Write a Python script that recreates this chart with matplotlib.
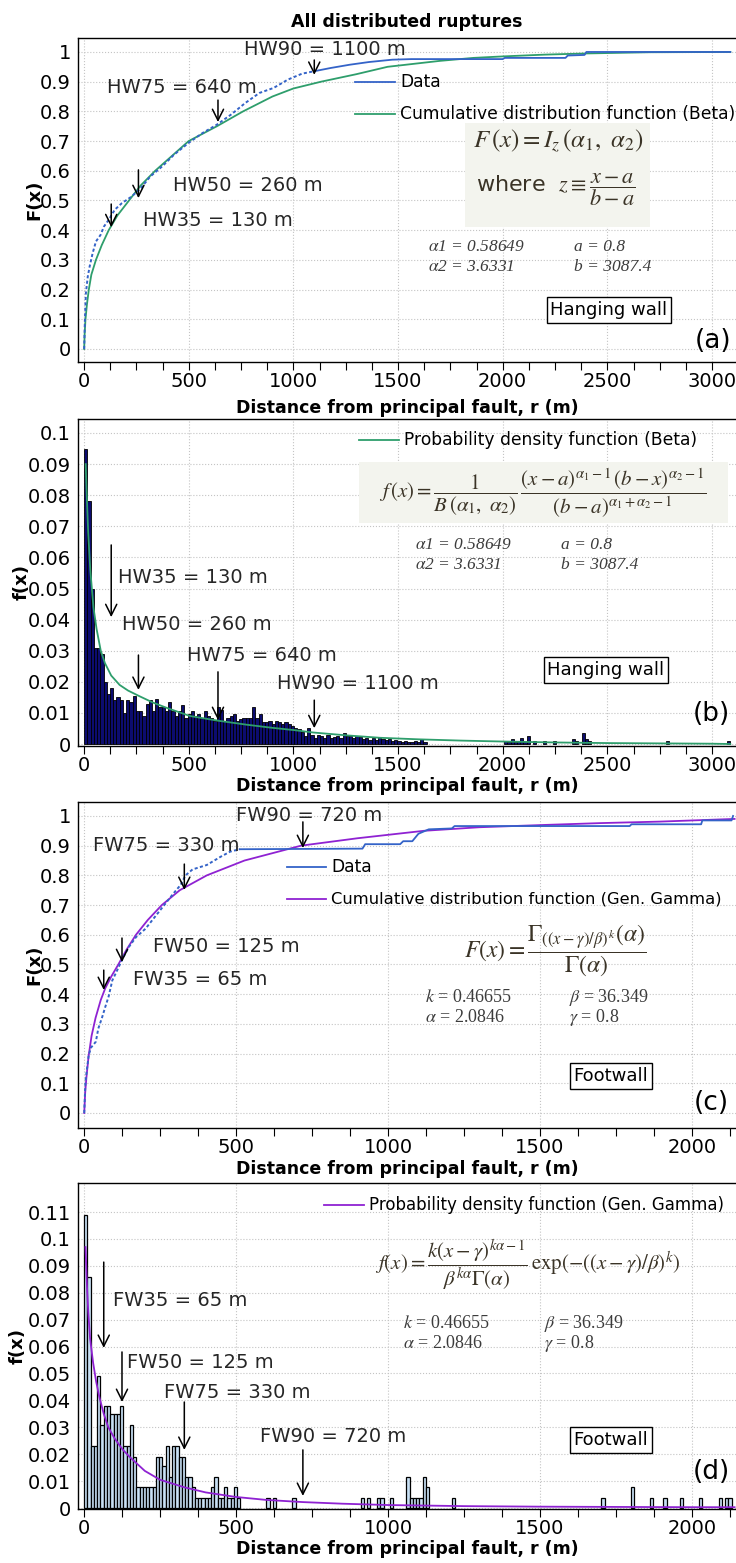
import matplotlib
matplotlib.use("Agg")
import numpy as np
import matplotlib.pyplot as plt
from matplotlib.ticker import MultipleLocator, FuncFormatter
from matplotlib.patches import Rectangle

plt.rcParams["font.family"] = ["DejaVu Sans"]
plt.rcParams["mathtext.fontset"] = "stix"

# ---------------- values ----------------
hw_pct_names = ["HW35", "HW50", "HW75", "HW90"]
hw_pct_vals = [130, 260, 640, 1100]
fw_pct_names = ["FW35", "FW50", "FW75", "FW90"]
fw_pct_vals = [65, 125, 330, 720]

# (a) hanging wall, empirical cdf
hw_ecdf_x = [0.8, 4.5, 9, 18, 27, 41, 57, 79, 95, 118, 147, 181, 227, 272, 317, 374,
             430, 498, 566, 634, 702, 770, 838, 906, 974, 1042, 1099, 1178, 1269,
             1360, 1473, 1564, 2000, 2010, 2300, 2311, 2391, 2400, 3087.4]
hw_ecdf_F = [0.0, 0.103, 0.188, 0.244, 0.278, 0.322, 0.362, 0.384, 0.412, 0.435, 0.469,
             0.491, 0.513, 0.542, 0.581, 0.615, 0.654, 0.693, 0.727, 0.755, 0.789, 0.828,
             0.862, 0.879, 0.907, 0.927, 0.935, 0.946, 0.957, 0.966, 0.974, 0.976,
             0.976, 0.98, 0.98, 0.988, 0.99, 1.0, 1.0]
# (a) fitted beta cdf
beta_cdf_x = [0.8, 3, 7, 14, 23, 35, 57, 85, 118, 160, 215, 270, 340, 420, 500, 635,
              760, 900, 1000, 1133, 1300, 1450, 1600, 1700, 1860, 2000, 2200, 2400,
              2700, 3087.4]
beta_cdf_F = [0.0, 0.05, 0.1, 0.15, 0.2, 0.25, 0.3, 0.35, 0.4, 0.45, 0.5, 0.55, 0.6,
              0.65, 0.7, 0.75, 0.8, 0.85, 0.877, 0.9, 0.925, 0.95, 0.962, 0.97, 0.98,
              0.985, 0.991, 0.995, 0.999, 1.0]

# (b) hanging wall histogram (relative frequency per bin)
hw_bin_lo = 0.8
hw_bin_w = 15.43
hw_nbins = 200
hw_freq_head = [
    0.095, 0.078, 0.050, 0.031, 0.031, 0.029, 0.020, 0.016,
    0.018, 0.014, 0.015, 0.014, 0.010, 0.014, 0.0135, 0.0155,
    0.0105, 0.0105, 0.009, 0.013, 0.014, 0.0105, 0.0145, 0.012,
    0.012, 0.0105, 0.0135, 0.0105, 0.009, 0.0105, 0.0125, 0.0085,
    0.0095, 0.0105, 0.009, 0.0095, 0.0085, 0.0105, 0.009, 0.0085,
    0.0075, 0.012, 0.011, 0.0075, 0.0085, 0.009, 0.0095, 0.0075,
    0.0082, 0.0085, 0.0085, 0.0085, 0.012, 0.0085, 0.0095, 0.0072,
    0.0072, 0.0075, 0.0064, 0.0075, 0.0072, 0.0064, 0.0072, 0.0064,
    0.0058, 0.0052, 0.0047, 0.0038, 0.0027, 0.0052, 0.0030, 0.0020,
    0.0030, 0.0025, 0.0020, 0.0030, 0.0020, 0.0022, 0.0025, 0.0020,
    0.0034, 0.0025, 0.0025, 0.0020, 0.0025, 0.0022, 0.0015, 0.0020,
    0.0012, 0.0018, 0.0012, 0.0022, 0.0015, 0.0012, 0.0015, 0.0010,
    0.0012, 0.0010, 0.0005, 0.0010, 0.0005, 0.0005, 0.0010, 0.0005,
]
hw_freq_tail = {104: 0.0015, 105: 0.0005, 130: 0.001, 131: 0.0005, 132: 0.0016,
                133: 0.0005, 134: 0.001, 135: 0.0018, 136: 0.0005, 137: 0.0027,
                139: 0.001, 142: 0.001, 145: 0.001, 151: 0.0016, 152: 0.001,
                154: 0.0034, 155: 0.0016, 156: 0.001, 180: 0.001, 199: 0.001}
# (b) fitted beta pdf (scaled to bin frequency)
beta_pdf_x = [8, 12, 20, 30, 45, 60, 80, 100, 130, 170, 210, 264, 330, 400, 506, 640,
              778, 900, 1000, 1095, 1250, 1414, 1600, 1800, 2000, 2250, 2500, 2750,
              3000, 3087.4]
beta_pdf_f = [0.090, 0.082, 0.068, 0.056, 0.044, 0.037, 0.030, 0.026, 0.022, 0.019,
              0.0172, 0.0154, 0.0133, 0.0115, 0.0090, 0.0075, 0.0062, 0.0052, 0.0045,
              0.0037, 0.0028, 0.0020, 0.0015, 0.0011, 0.0008, 0.0005, 0.0003, 0.0002,
              0.0001, 0.0]

# (c) footwall, empirical cdf
fw_ecdf_x = [0.8, 4.7, 15.5, 23, 39, 47, 59, 70, 81, 93, 109, 127, 147, 171, 202, 233,
             264, 295, 318, 334, 357, 404, 450, 481, 512, 916, 925, 1040, 1050, 1080,
             1100, 1134, 1210, 1219, 1795, 1801, 2030, 2034, 2130, 2135]
fw_ecdf_F = [0.0, 0.105, 0.195, 0.22, 0.24, 0.284, 0.32, 0.357, 0.392, 0.446, 0.48,
             0.52, 0.558, 0.592, 0.62, 0.66, 0.70, 0.74, 0.768, 0.80, 0.82, 0.835,
             0.863, 0.88, 0.888, 0.89, 0.905, 0.905, 0.915, 0.915, 0.94, 0.955, 0.958,
             0.966, 0.966, 0.972, 0.972, 0.985, 0.985, 1.0]
# (c) fitted generalized gamma cdf
gg_cdf_x = [0.8, 4, 8, 15, 25, 38, 55, 70, 90, 113, 140, 171, 210, 256, 315, 404, 528,
            714, 900, 1118, 1300, 1522, 1700, 1894, 2140]
gg_cdf_F = [0.0, 0.07, 0.12, 0.19, 0.26, 0.32, 0.38, 0.42, 0.46, 0.5, 0.55, 0.6, 0.65,
            0.7, 0.75, 0.8, 0.85, 0.9, 0.925, 0.95, 0.962, 0.97, 0.976, 0.981, 0.99]

# (d) footwall histogram
fw_bin_lo = 0.8
fw_bin_w = 10.7
fw_nbins = 200
fw_freq_head = [
    0.109, 0.086, 0.023, 0.023, 0.049, 0.031, 0.038, 0.038,
    0.035, 0.035, 0.035, 0.038, 0.023, 0.023, 0.031, 0.019,
    0.0078, 0.0078, 0.0078, 0.0078, 0.0078, 0.0078, 0.019, 0.019,
    0.0155, 0.023, 0.0116, 0.023, 0.023, 0.019, 0.019, 0.0116,
    0.0116, 0.0078, 0.0039, 0.0039, 0.0039, 0.0039, 0.0039, 0.0078,
    0.0116, 0.0039, 0.0039, 0.0078, 0.0039, 0.0039, 0.0078, 0.0039,
]
fw_freq_tail = {56: 0.0039, 58: 0.0039, 64: 0.0039, 85: 0.0039, 87: 0.0039,
                90: 0.0039, 91: 0.0039, 94: 0.0039, 99: 0.0116, 100: 0.0039,
                101: 0.0039, 102: 0.0039, 103: 0.0039, 104: 0.0116, 105: 0.0078,
                113: 0.0039, 159: 0.0039, 168: 0.0078, 174: 0.0039, 178: 0.0039,
                183: 0.0039, 189: 0.0039, 195: 0.0039, 197: 0.0039, 198: 0.0039}
# (d) fitted generalized gamma pdf
gg_pdf_x = [5, 10, 14, 20, 30, 40, 50, 65, 80, 100, 125, 150, 200, 250, 330, 400, 500,
            600, 720, 850, 1000, 1250, 1500, 1750, 2000, 2140]
gg_pdf_f = [0.097, 0.082, 0.073, 0.063, 0.054, 0.047, 0.0415, 0.035, 0.030, 0.026,
            0.022, 0.019, 0.0138, 0.0105, 0.0077, 0.0058, 0.0041, 0.0030, 0.0022,
            0.0016, 0.0011, 0.0007, 0.0005, 0.0004, 0.0003, 0.0003]

# ---------------- styling ----------------
C_DATA = "#3463c8"
C_BETA = "#2e9e6c"
C_GG = "#8f22d2"
C_NAVY = "#0c0c70"
C_LIGHT = "#c8e0f4"
C_FORM = "#3a3326"
C_PAR = "#3c3c3c"
LEG_SIZE = 12.3
SERIF = ["Liberation Serif", "DejaVu Serif"]

W, H = 736, 1563
LEFT, RIGHT = 78, 736
panels = {"a": (38, 362), "b": (419, 746), "c": (802, 1128), "d": (1183, 1509)}

fig = plt.figure(figsize=(W / 100, H / 100), dpi=100)


def make_axes(key):
    top, bot = panels[key]
    return fig.add_axes([LEFT / W, 1 - bot / H, (RIGHT - LEFT) / W, (bot - top) / H])


def afrac(key, px, py):
    top, bot = panels[key]
    return (px - LEFT) / (RIGHT - LEFT), (bot - py) / (bot - top)


def style(ax, key, xlim, ylim, yticks, ylabel, ylab_px, xlab_pad):
    ax.set_xlim(xlim)
    ax.set_ylim(ylim)
    ax.set_yticks(yticks)
    ax.yaxis.set_major_formatter(FuncFormatter(lambda v, p: f"{v:g}"))
    ax.xaxis.set_major_locator(MultipleLocator(500))
    ax.xaxis.set_minor_locator(MultipleLocator(125))
    ax.grid(True, which="major", ls=":", color="#c4c4c4", lw=0.8)
    ax.set_axisbelow(True)
    ax.spines["right"].set_visible(False)
    for s in ["left", "top", "bottom"]:
        ax.spines[s].set_linewidth(1.0)
    ax.tick_params(axis="x", which="major", length=6, width=0.8, pad=1, labelsize=14)
    ax.tick_params(axis="x", which="minor", length=6, width=0.8)
    ax.tick_params(axis="y", length=0, pad=5, labelsize=14)
    ax.set_xlabel("Distance from principal fault, r (m)", fontsize=12.5,
                  fontweight="bold", labelpad=xlab_pad)
    ax.set_ylabel(ylabel, fontsize=13, fontweight="bold")
    ax.yaxis.set_label_coords((ylab_px - LEFT) / (RIGHT - LEFT), 0.5)


def legend_line(ax, key, x1, x2, py, color, label, size=LEG_SIZE):
    fx1, fy = afrac(key, x1, py)
    fx2, _ = afrac(key, x2, py)
    ax.plot([fx1, fx2], [fy, fy], color=color, lw=1.3, transform=ax.transAxes)
    ax.text(fx2 + 5 / 658, fy, label, transform=ax.transAxes, ha="left", va="center",
            fontsize=size)


def put(ax, key, px, py, s, **kw):
    fx, fy = afrac(key, px, py)
    ax.text(fx, fy, s, transform=ax.transAxes, **kw)


def boxed(ax, key, px, py, s):
    put(ax, key, px, py, s, ha="center", va="center", fontsize=13,
        bbox=dict(boxstyle="square,pad=0.2", fc="white", ec="black", lw=1.0))


def shade(ax, key, x1, y1, x2, y2):
    fx1, fy1 = afrac(key, x1, y2)
    fx2, fy2 = afrac(key, x2, y1)
    ax.add_patch(Rectangle((fx1, fy1), fx2 - fx1, fy2 - fy1, transform=ax.transAxes,
                           fc="#f3f4ee", ec="none", zorder=1))


def arrows(ax, names, vals, text_xy, tails, heads):
    for name, v, (tx, ty), t, h in zip(names, vals, text_xy, tails, heads):
        ax.annotate("", xy=(v, h), xytext=(v, t),
                    arrowprops=dict(arrowstyle="->", color="black", lw=1.1,
                                    mutation_scale=20, shrinkA=0, shrinkB=0))
        ax.text(tx, ty, f"{name} = {v} m", ha="left", va="center", fontsize=14,
                color="#262626")


def bars(ax, lo, w, n, head, tail, fc, lw):
    freq = np.zeros(n)
    freq[:len(head)] = head
    for k, v in tail.items():
        freq[k] = v
    left = lo + w * np.arange(n)
    keep = freq > 0
    ax.bar(left[keep], freq[keep], width=w, align="edge", color=fc,
           edgecolor="black", lw=lw, zorder=2)


def ecdf_line(ax, x, F, split):
    x = np.asarray(x)
    F = np.asarray(F)
    i = int(np.searchsorted(F, split))
    ax.plot(x[:i + 1], F[:i + 1], color=C_DATA, lw=1.4, ls=(0, (1.6, 1.2)), zorder=3)
    ax.plot(x[i:], F[i:], color=C_DATA, lw=1.3, zorder=3)


beta_par = [r"$\alpha$1 = 0.58649", r"$\alpha$2 = 3.6331", "a = 0.8", "b = 3087.4"]
gg_par = [r"$k$ = 0.46655", r"$\alpha$ = 2.0846", r"$\beta$ = 36.349", r"$\gamma$ = 0.8"]


def params(ax, key, x1, x2, y1, y2, items, italic):
    kw = dict(ha="left", va="center", fontsize=12.5, color=C_PAR, family=SERIF)
    if italic:
        kw.update(style="italic")
    else:
        kw.update(fontsize=13)
    for (px, py), s in zip([(x1, y1), (x1, y2), (x2, y1), (x2, y2)], items):
        put(ax, key, px, py, s, **kw)


# ---------------- (a) ----------------
ax = make_axes("a")
style(ax, "a", (-28.7, 3114.6), (-0.0438, 1.047), np.round(np.arange(0, 1.01, 0.1), 1),
      "F(x)", 43, 6)
ax.plot(beta_cdf_x, beta_cdf_F, color=C_BETA, lw=1.3, zorder=3)
ecdf_line(ax, hw_ecdf_x, hw_ecdf_F, 0.93)
arrows(ax, hw_pct_names, hw_pct_vals,
       [(282, 0.431), (425, 0.549), (110, 0.879), (764, 1.007)],
       [0.488, 0.603, 0.838, 0.973], [0.41, 0.508, 0.764, 0.923])
legend_line(ax, "a", 355, 395, 82, C_DATA, "Data")
legend_line(ax, "a", 355, 395, 114, C_BETA, "Cumulative distribution function (Beta)")
shade(ax, "a", 465, 123, 650, 227)
put(ax, "a", 558, 141, r"$F\,(x) = I_z\,(\alpha_1,\ \alpha_2)$", ha="center",
    va="center", fontsize=18, color=C_FORM, zorder=4)
put(ax, "a", 556, 190, r"where  $z\equiv\dfrac{x-a}{b-a}$", ha="center", va="center",
    fontsize=16, color=C_FORM, zorder=4)
params(ax, "a", 428, 574, 247, 267, beta_par, True)
boxed(ax, "a", 609, 310, "Hanging wall")
put(ax, "a", 713, 341, "(a)", ha="center", va="center", fontsize=19)
ax.set_title("All distributed ruptures", fontsize=12.5, fontweight="bold", pad=8)

# ---------------- (b) ----------------
ax = make_axes("b")
style(ax, "b", (-28.7, 3114.6), (-0.00064, 0.1045), np.round(np.arange(0, 0.101, 0.01), 2),
      "f(x)", 31, 2)
bars(ax, hw_bin_lo, hw_bin_w, hw_nbins, hw_freq_head, hw_freq_tail, C_NAVY, 0.6)
ax.plot(beta_pdf_x, beta_pdf_f, color=C_BETA, lw=1.3, zorder=3)
arrows(ax, hw_pct_names, hw_pct_vals,
       [(162, 0.0534), (182, 0.0383), (492, 0.0286), (922, 0.0196)],
       [0.064, 0.0286, 0.0232, 0.0141], [0.0408, 0.0174, 0.0077, 0.0051])
legend_line(ax, "b", 359, 399, 440, C_BETA, "Probability density function (Beta)")
shade(ax, "b", 359, 462, 728, 523)
put(ax, "b", 543, 493,
    r"$f\,(x) = \dfrac{1}{B\,(\alpha_1,\ \alpha_2)}\,"
    r"\dfrac{(x-a)^{\alpha_1-1}\,(b-x)^{\alpha_2-1}}{(b-a)^{\alpha_1+\alpha_2-1}}$",
    ha="center", va="center", fontsize=15, color=C_FORM, zorder=4)
params(ax, "b", 415, 561, 545, 565, beta_par, True)
boxed(ax, "b", 606, 670, "Hanging wall")
put(ax, "b", 711, 714, "(b)", ha="center", va="center", fontsize=19)

# ---------------- (c) ----------------
ax = make_axes("c")
style(ax, "c", (-19.7, 2144.7), (-0.0505, 1.047), np.round(np.arange(0, 1.01, 0.1), 1),
      "F(x)", 43, 2)
ax.plot(gg_cdf_x, gg_cdf_F, color=C_GG, lw=1.3, zorder=3)
ecdf_line(ax, fw_ecdf_x, fw_ecdf_F, 0.888)
arrows(ax, fw_pct_names, fw_pct_vals,
       [(161, 0.448), (227, 0.562), (30, 0.902), (500, 1.003)],
       [0.481, 0.589, 0.838, 0.98], [0.414, 0.508, 0.751, 0.892])
legend_line(ax, "c", 287, 326, 867, C_DATA, "Data")
legend_line(ax, "c", 287, 326, 899, C_GG, "Cumulative distribution function (Gen. Gamma)",
            size=11.8)
put(ax, "c", 555, 950,
    r"$F(x) = \dfrac{\Gamma_{((x-\gamma)/\beta)^{\,k}}(\alpha)}{\Gamma(\alpha)}$",
    ha="center", va="center", fontsize=17, color=C_FORM, zorder=4)
params(ax, "c", 425, 569, 998, 1018, gg_par, False)
boxed(ax, "c", 611, 1076, "Footwall")
put(ax, "c", 711, 1103, "(c)", ha="center", va="center", fontsize=19)

# ---------------- (d) ----------------
ax = make_axes("d")
style(ax, "d", (-19.7, 2144.7), (-0.00037, 0.1208), np.round(np.arange(0, 0.111, 0.01), 2),
      "f(x)", 27, 2)
bars(ax, fw_bin_lo, fw_bin_w, fw_nbins, fw_freq_head, fw_freq_tail, C_LIGHT, 0.9)
ax.plot(gg_pdf_x, gg_pdf_f, color=C_GG, lw=1.3, zorder=3)
arrows(ax, fw_pct_names, fw_pct_vals,
       [(95, 0.0773), (141, 0.0539), (263, 0.0431), (579, 0.0264)],
       [0.0914, 0.058, 0.0394, 0.0216], [0.0595, 0.0394, 0.0216, 0.0045])
legend_line(ax, "d", 324, 364, 1205, C_GG, "Probability density function (Gen. Gamma)",
            size=12.0)
put(ax, "d", 528, 1265,
    r"$f(x) = \dfrac{k(x-\gamma)^{k\alpha-1}}{\beta^{k\alpha}\Gamma(\alpha)}"
    r"\,\exp(-((x-\gamma)/\beta)^k)$",
    ha="center", va="center", fontsize=15, color=C_FORM, zorder=4)
params(ax, "d", 403, 544, 1323, 1343, gg_par, False)
boxed(ax, "d", 611, 1440, "Footwall")
put(ax, "d", 711, 1472, "(d)", ha="center", va="center", fontsize=19)

fig.savefig("out.png", dpi=100)
